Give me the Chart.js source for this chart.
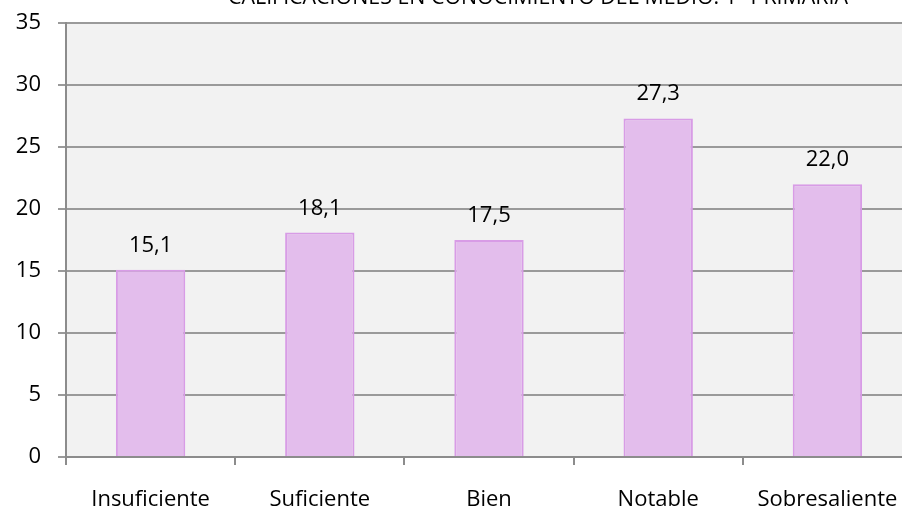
<!DOCTYPE html>
<html>
<head>
<meta charset="utf-8">
<script src="https://cdn.jsdelivr.net/npm/chart.js@4/dist/chart.umd.min.js"></script>
<style>
    html, body { margin: 0; padding: 0; background: #fff; overflow: hidden; }
    #wrap { width: 902px; height: 512px; overflow: hidden; position: relative; }
    #chart { position: absolute; left: 0; top: 0; }
</style>
</head>
<body>
<div id="wrap"><canvas id="chart" width="912" height="512"></canvas></div>
<script>
// datos del gráfico
const categorias = ['Insuficiente', 'Suficiente', 'Bien', 'Notable', 'Sobresaliente'];
const porcentajes = [15.1, 18.1, 17.5, 27.3, 22.0];
const titulo = 'CALIFICACIONES EN CONOCIMIENTO DEL MEDIO. 1º PRIMARIA';

const fuente = '"Open Sans", "Noto Sans", sans-serif';

// fondo gris del área de trazado
const fondoPlugin = {
    id: 'fondo',
    beforeDraw(chart) {
        const a = chart.chartArea;
        const ctx = chart.ctx;
        ctx.save();
        ctx.fillStyle = '#f2f2f2';
        ctx.fillRect(a.left, a.top, a.right - a.left, a.bottom - a.top);
        ctx.restore();
    }
};

// etiquetas de valor encima de cada barra y título recortado
const etiquetasPlugin = {
    id: 'etiquetas',
    afterDatasetsDraw(chart) {
        const ctx = chart.ctx;
        const meta = chart.getDatasetMeta(0);
        ctx.save();
        ctx.fillStyle = '#000';
        ctx.font = '22px ' + fuente;
        ctx.textAlign = 'center';
        ctx.textBaseline = 'alphabetic';
        meta.data.forEach((bar, i) => {
            const txt = porcentajes[i].toFixed(1).replace('.', ',');
            ctx.fillText(txt, bar.x, bar.y - 18);
        });
        // el título queda cortado por el borde superior
        ctx.fillText(titulo, 538, 4, 620);
        ctx.restore();
    }
};

new Chart(document.getElementById('chart'), {
    type: 'bar',
    data: {
        labels: categorias,
        datasets: [{
            data: porcentajes,
            backgroundColor: '#e3bdec',
            borderColor: '#d89ce6',
            borderWidth: 2,
            categoryPercentage: 1,
            barPercentage: 0.41
        }]
    },
    options: {
        responsive: false,
        animation: false,
        layout: { padding: { top: 23, left: 0, right: 0, bottom: 0 } },
        plugins: {
            legend: { display: false },
            title: { display: false },
            tooltip: { enabled: false }
        },
        scales: {
            x: {
                afterFit(scale) {
                    scale.height = 55;
                    scale.paddingLeft = 0;
                    scale.paddingRight = 0;
                },
                grid: {
                    offset: true,
                    drawOnChartArea: false,
                    drawTicks: true,
                    tickLength: 8,
                    color: '#8c8c8c',
                    lineWidth: 2
                },
                border: { color: '#8c8c8c', width: 2 },
                ticks: {
                    color: '#000',
                    font: { family: fuente, size: 22 },
                    padding: 22,
                    maxRotation: 0,
                    autoSkip: false
                }
            },
            y: {
                min: 0,
                max: 35,
                afterFit(scale) {
                    scale.width = 66;
                    scale.paddingTop = 0;
                    scale.paddingBottom = 0;
                },
                grid: {
                    color: '#9a9a9a',
                    lineWidth: 2,
                    tickLength: 8
                },
                border: { color: '#8c8c8c', width: 2 },
                ticks: {
                    stepSize: 5,
                    color: '#000',
                    font: { family: fuente, size: 22 },
                    padding: 17
                }
            }
        }
    },
    plugins: [fondoPlugin, etiquetasPlugin]
});
</script>
</body>
</html>
